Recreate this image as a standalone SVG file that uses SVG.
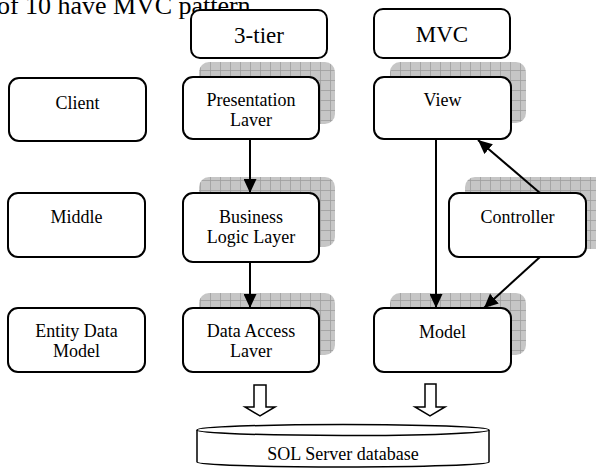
<svg xmlns="http://www.w3.org/2000/svg" width="596" height="468" viewBox="0 0 596 468" font-family="Liberation Serif, Times New Roman, serif">
<style>
.box{fill:#fff;stroke:#000;stroke-width:2}
.sh{fill:url(#grid);stroke:none}
.ln{stroke:#000;stroke-width:2;fill:none;marker-end:url(#ah)}
.hol{fill:#fff;stroke:#000;stroke-width:1.5}
</style>
<defs>
<pattern id="grid" width="10" height="10" patternUnits="userSpaceOnUse">
<rect width="10" height="10" fill="#c6c6c6"/>
<path d="M0,0.5 H10 M0.5,0 V10" stroke="#9e9e9e" stroke-width="0.8" fill="none"/>
</pattern>
<marker id="ah" markerUnits="userSpaceOnUse" markerWidth="15" markerHeight="13" refX="14" refY="6.5" orient="auto">
<path d="M0,0 L14,6.5 L0,13 Z" fill="#000"/>
</marker>
</defs>
<rect width="596" height="468" fill="#fff"/>
<text x="-3" y="14" font-family="Liberation Serif, Times New Roman, serif" font-size="26" textLength="260" lengthAdjust="spacing">of 10 have MVC pattern.</text>

<g id="shadows">
<rect class="sh" x="199" y="62" width="136" height="62" rx="10"/>
<rect class="sh" x="199" y="177" width="136" height="70" rx="10"/>
<rect class="sh" x="199" y="293" width="136" height="62" rx="10"/>
<rect class="sh" x="390" y="62" width="136" height="61" rx="10"/>
<rect class="sh" x="465" y="177" width="140" height="72" rx="10"/>
<rect class="sh" x="390" y="293" width="136" height="62" rx="10"/>
</g>

<g id="tier3" font-family="Liberation Serif, Times New Roman, serif" font-size="23" text-anchor="middle">
<rect class="box" x="191" y="10" width="136" height="48" rx="9"/>
<text x="259" y="43">3-tier</text>
</g>
<g id="mvc" font-family="Liberation Serif, Times New Roman, serif" font-size="23" text-anchor="middle">
<rect class="box" x="374" y="9" width="136" height="49" rx="9"/>
<text x="442" y="42">MVC</text>
</g>
<g id="client" font-family="Liberation Serif, Times New Roman, serif" font-size="18" text-anchor="middle">
<rect class="box" x="9" y="78" width="137" height="63" rx="10"/>
<text x="77.5" y="109">Client</text>
</g>
<g id="middle" font-family="Liberation Serif, Times New Roman, serif" font-size="18" text-anchor="middle">
<rect class="box" x="8" y="193" width="137" height="64" rx="10"/>
<text x="76.5" y="223">Middle</text>
</g>
<g id="entity" font-family="Liberation Serif, Times New Roman, serif" font-size="18" text-anchor="middle">
<rect class="box" x="8" y="308" width="137" height="64" rx="10"/>
<text x="76.5" y="337">Entity Data</text>
<text x="76.5" y="357">Model</text>
</g>

<g id="connectors">
<line class="ln" x1="250" y1="139" x2="250" y2="193"/>
<line class="ln" x1="250" y1="256" x2="250" y2="308"/>
<line class="ln" x1="436" y1="139" x2="436" y2="308"/>
<line class="ln" x1="540" y1="193" x2="478" y2="140"/>
<line class="ln" x1="540" y1="257" x2="484" y2="308"/>
<path class="hol" d="M254,385 H266 V407 H275 L260,416 L245,407 H254 Z"/>
<path class="hol" d="M425,384 H436 V407 H445 L430,416 L415,407 H425 Z"/>
</g>

<g id="presentation" font-family="Liberation Serif, Times New Roman, serif" font-size="18" text-anchor="middle">
<rect class="box" x="183" y="77" width="136" height="62" rx="10"/>
<text x="251" y="106">Presentation</text>
<text x="251" y="126">Laver</text>
</g>
<g id="business" font-family="Liberation Serif, Times New Roman, serif" font-size="18" text-anchor="middle">
<rect class="box" x="183" y="193" width="136" height="69" rx="10"/>
<text x="251" y="223">Business</text>
<text x="251" y="243">Logic Layer</text>
</g>
<g id="dataaccess" font-family="Liberation Serif, Times New Roman, serif" font-size="18" text-anchor="middle">
<rect class="box" x="183" y="308" width="136" height="64" rx="10"/>
<text x="251" y="337">Data Access</text>
<text x="251" y="357">Laver</text>
</g>
<g id="view" font-family="Liberation Serif, Times New Roman, serif" font-size="18" text-anchor="middle">
<rect class="box" x="374" y="77" width="137" height="62" rx="10"/>
<text x="442.5" y="106">View</text>
</g>
<g id="controller" font-family="Liberation Serif, Times New Roman, serif" font-size="18" text-anchor="middle">
<rect class="box" x="449" y="193" width="137" height="64" rx="10"/>
<text x="517.5" y="223">Controller</text>
</g>
<g id="model" font-family="Liberation Serif, Times New Roman, serif" font-size="18" text-anchor="middle">
<rect class="box" x="374" y="308" width="137" height="64" rx="10"/>
<text x="442.5" y="338">Model</text>
</g>

<g id="database" font-family="Liberation Serif, Times New Roman, serif" font-size="18" text-anchor="middle">
<path d="M197,430 V462 A146,5 0 0 0 489,462 V430" fill="#fff" stroke="#000" stroke-width="1.5"/>
<ellipse cx="343" cy="430" rx="146" ry="5.5" fill="#fff" stroke="#000" stroke-width="1.5"/>
<text x="343" y="460">SOL Server database</text>
</g>
</svg>
